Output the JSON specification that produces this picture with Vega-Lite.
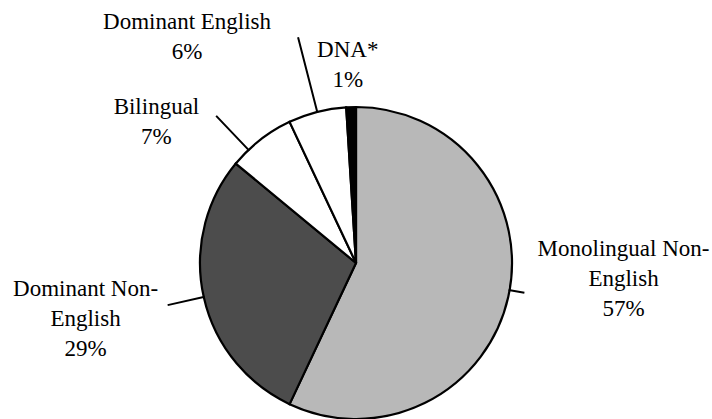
{
  "$schema": "https://vega.github.io/schema/vega-lite/v6.json",
  "width": 712,
  "height": 312,
  "autosize": {"type": "none"},
  "padding": {"left": 0, "right": 0, "top": 107, "bottom": 0},
  "background": "white",
  "view": {"stroke": null},
  "config": {"font": "Liberation Serif"},
  "resolve": {"scale": {"theta": "independent"}},
  "data": {
    "values": [
      {"idx": 1, "category": "Monolingual Non-English", "pct": 57, "label": "Monolingual Non-\nEnglish\n57%"},
      {"idx": 2, "category": "Dominant Non-English", "pct": 29, "label": "Dominant Non-\nEnglish\n29%"},
      {"idx": 3, "category": "Bilingual", "pct": 7, "label": "Bilingual\n7%"},
      {"idx": 4, "category": "Dominant English", "pct": 6, "label": "Dominant English\n6%"},
      {"idx": 5, "category": "DNA*", "pct": 1, "label": "DNA*\n1%"}
    ]
  },
  "encoding": {
    "theta": {"field": "pct", "type": "quantitative", "stack": true, "scale": {"domain": [0, 100]}},
    "order": {"field": "idx", "type": "quantitative"},
    "detail": {"field": "category", "type": "nominal"}
  },
  "layer": [
    {
      "mark": {"type": "arc", "outerRadius": 156, "stroke": "#000000", "strokeWidth": 2.2},
      "encoding": {
        "color": {
          "field": "category", "type": "nominal", "legend": null,
          "scale": {
            "domain": ["Monolingual Non-English", "Dominant Non-English", "Bilingual", "Dominant English", "DNA*"],
            "range": ["#b8b8b8", "#4c4c4c", "#ffffff", "#ffffff", "#000000"]
          }
        }
      }
    },
    {
      "mark": {"type": "arc", "radius": 171, "radius2": 155, "padAngle": 3, "thetaOffset": 0.85, "fillOpacity": 0, "stroke": "#000000", "strokeWidth": 2},
      "encoding": {
        "theta": {"field": "pct", "type": "quantitative", "stack": true, "scale": {"domain": [0, 200]}},
        "strokeOpacity": {"condition": {"test": "datum.category === 'Monolingual Non-English'", "value": 1}, "value": 0}
      }
    },
    {
      "mark": {"type": "arc", "radius": 193, "radius2": 155, "padAngle": 3, "fillOpacity": 0, "stroke": "#000000", "strokeWidth": 2},
      "encoding": {"strokeOpacity": {"condition": {"test": "datum.category === 'Dominant Non-English'", "value": 1}, "value": 0}}
    },
    {
      "mark": {"type": "arc", "radius": 203, "radius2": 155, "padAngle": 3, "thetaOffset": -0.1, "fillOpacity": 0, "stroke": "#000000", "strokeWidth": 2},
      "encoding": {"strokeOpacity": {"condition": {"test": "datum.category === 'Bilingual'", "value": 1}, "value": 0}}
    },
    {
      "mark": {"type": "arc", "radius": 233, "radius2": 155, "padAngle": 3, "fillOpacity": 0, "stroke": "#000000", "strokeWidth": 2},
      "encoding": {"strokeOpacity": {"condition": {"test": "datum.category === 'Dominant English'", "value": 1}, "value": 0}}
    },
    {
      "mark": {"type": "text", "radius": 268, "dx": 6, "dy": -72, "font": "Liberation Serif", "fontSize": 23, "lineHeight": 30, "lineBreak": "\n", "align": "center", "baseline": "middle", "color": "#000000"},
      "encoding": {"text": {"condition": {"test": "datum.category === 'Monolingual Non-English'", "field": "label", "type": "nominal"}, "value": ""}}
    },
    {
      "mark": {"type": "text", "radius": 272, "dx": -5, "dy": -33, "font": "Liberation Serif", "fontSize": 23, "lineHeight": 30, "lineBreak": "\n", "align": "center", "baseline": "middle", "color": "#000000"},
      "encoding": {"text": {"condition": {"test": "datum.category === 'Dominant Non-English'", "field": "label", "type": "nominal"}, "value": ""}}
    },
    {
      "mark": {"type": "text", "radius": 244, "dx": -50, "dy": 37, "font": "Liberation Serif", "fontSize": 23, "lineHeight": 30, "lineBreak": "\n", "align": "center", "baseline": "middle", "color": "#000000"},
      "encoding": {"text": {"condition": {"test": "datum.category === 'Bilingual'", "field": "label", "type": "nominal"}, "value": ""}}
    },
    {
      "mark": {"type": "text", "radius": 233, "dx": -111, "dy": -15, "font": "Liberation Serif", "fontSize": 23, "lineHeight": 30, "lineBreak": "\n", "align": "center", "baseline": "middle", "color": "#000000"},
      "encoding": {"text": {"condition": {"test": "datum.category === 'Dominant English'", "field": "label", "type": "nominal"}, "value": ""}}
    },
    {
      "mark": {"type": "text", "radius": 198, "dx": -2, "dy": -15, "font": "Liberation Serif", "fontSize": 23, "lineHeight": 30, "lineBreak": "\n", "align": "center", "baseline": "middle", "color": "#000000"},
      "encoding": {"text": {"condition": {"test": "datum.category === 'DNA*'", "field": "label", "type": "nominal"}, "value": ""}}
    }
  ]
}
